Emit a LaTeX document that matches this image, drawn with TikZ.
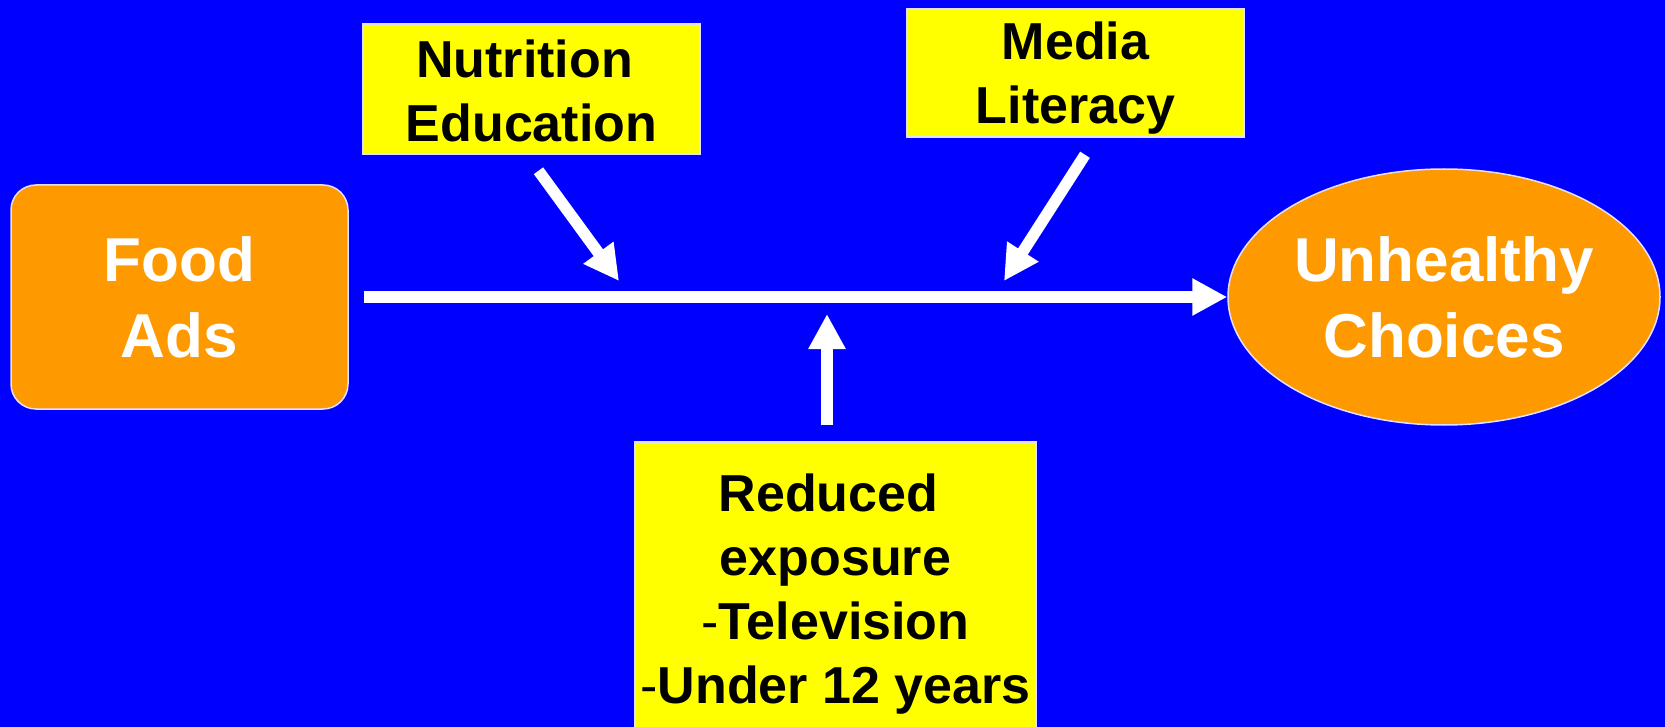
\documentclass[tikz,border=0pt]{standalone}
\usepackage{fontspec}
\setmainfont{Liberation Sans}
\usetikzlibrary{arrows.meta, shapes.geometric}

\definecolor{bgblue}{RGB}{0,0,255}
\definecolor{adorange}{RGB}{255,153,0}
\definecolor{boxyellow}{RGB}{255,255,0}
\definecolor{edgewhite}{RGB}{225,225,255}

\begin{document}
\begin{tikzpicture}[x=1pt, y=-1pt,
		orangebox/.style={draw=edgewhite, line width=1.5pt, fill=adorange, text=white, align=center, inner sep=0pt,
				font=\fontsize{62}{76}\selectfont\bfseries},
		yellowbox/.style={draw=edgewhite, line width=1.5pt, fill=boxyellow, text=black, align=center, inner sep=0pt,
				font=\fontsize{52}{64}\selectfont\bfseries},
		bigarrow/.style={white, line width=11.5pt, line cap=butt, -{Triangle[length=35pt, width=35pt]}}]
		\useasboundingbox (0,0) rectangle (1665,727);
		\clip (0,0) rectangle (1665,727);
		\fill[bgblue] (0,0) rectangle (1665,727);

		% Cause and outcome
		\node[orangebox, rounded corners=25pt, minimum width=337pt, minimum height=224pt] (food) at (179.5,297) {Food\\Ads};
		\node[orangebox, ellipse, minimum width=432pt, minimum height=256pt] (choices) at (1444,297) {Unhealthy\\Choices};

		% Moderators
		\node[yellowbox, minimum width=337pt, minimum height=130pt] (nutri) at (531.5,89) {\rule{0pt}{42pt}Nutrition\kern14pt\\Education};
		\node[yellowbox, minimum width=337pt, minimum height=128pt] (media) at (1075.5,73) {\rule{0pt}{48pt}Media\\Literacy};
		\node[yellowbox, anchor=north, minimum width=401pt, inner ysep=32pt] (reduced) at (835.5,441)
			{Reduced\kern14pt\\exposure\\{\mdseries -}Television\\{\mdseries -}Under 12 years};

		% Points where the moderators hit the main path
		\coordinate (hitnutri) at (619,281);
		\coordinate (hitmedia) at (1004,281);
		\coordinate (hitreduced) at (827,314);

		% Main path
		\draw[bigarrow, shorten <=15pt] (food.east) -- (choices.west);

		% Moderator arrows
		\draw[bigarrow] ([xshift=7pt, yshift=-16pt]nutri.south) -- (hitnutri);
		\draw[bigarrow] ([xshift=9.5pt, yshift=-17pt]media.south) -- (hitmedia);
		\draw[bigarrow] ([xshift=-8.5pt, yshift=16pt]reduced.north) -- (hitreduced);
	\end{tikzpicture}
\end{document}
